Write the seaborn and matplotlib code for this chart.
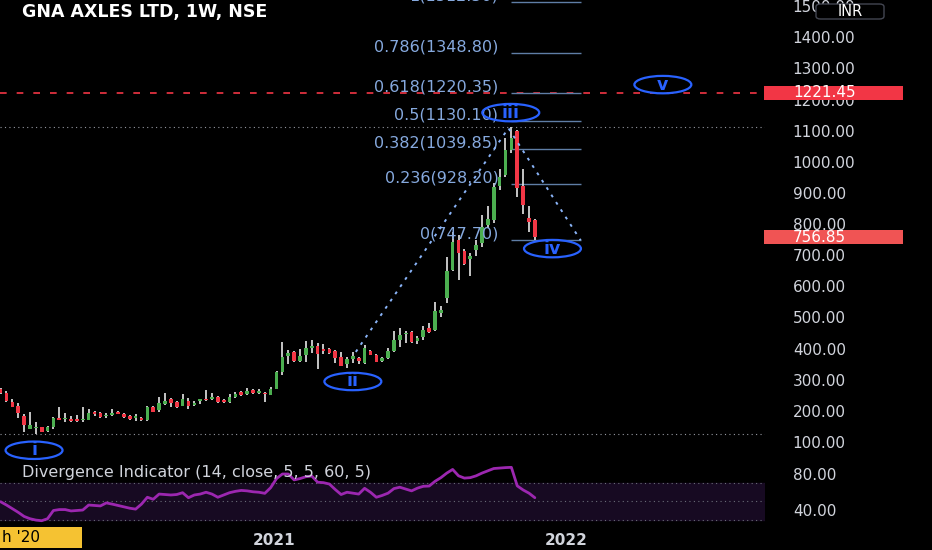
import matplotlib
matplotlib.use("Agg")
import matplotlib.pyplot as plt
import matplotlib.transforms as mtransforms
from matplotlib.patches import Ellipse, Rectangle, FancyBboxPatch
import numpy as np
import pandas as pd
import seaborn as sns

# weekly candles, bar 0 = first visible bar on the left
opens = [269, 258, 229, 216, 184, 141, 143, 147, 134, 147, 176, 173, 173, 173, 171, 170,
         195, 194, 183, 186, 196, 191, 183, 178, 178, 170, 213, 202, 222, 237, 229, 215,
         232, 218, 232, 236, 238, 245, 235, 229, 243, 261, 254, 266, 256, 258, 251, 270,
         324, 376, 388, 361, 379, 403, 409, 394, 397, 392, 372, 349, 365, 370, 353, 393,
         379, 361, 369, 392, 427, 447, 454, 425, 436, 467, 460, 513, 561, 652, 749, 714,
         687, 717, 740, 797, 813, 923, 958, 1038, 1099, 923, 820, 813]
highs = [274, 262, 238, 224, 190, 195, 165, 149, 152, 181, 213, 192, 183, 185, 212, 206,
         200, 197, 194, 206, 198, 194, 186, 190, 181, 215, 215, 243, 256, 240, 232, 254,
         242, 231, 238, 268, 256, 247, 237, 253, 261, 264, 272, 269, 270, 260, 276, 327,
         422, 395, 392, 398, 425, 427, 417, 414, 401, 395, 390, 372, 390, 372, 411, 396,
         382, 374, 403, 456, 465, 457, 457, 440, 472, 481, 548, 537, 693, 775, 765, 719,
         706, 749, 829, 858, 931, 976, 1075, 1111, 1102, 976, 858, 815]
lows = [254, 229, 211, 176, 133, 140, 125, 131, 133, 141, 170, 165, 163, 163, 165, 170,
        184, 176, 176, 183, 188, 177, 170, 168, 168, 168, 196, 197, 219, 213, 210, 214,
        206, 215, 222, 232, 235, 224, 226, 226, 241, 248, 252, 254, 253, 227, 250, 269,
        315, 350, 356, 358, 358, 385, 333, 382, 382, 352, 344, 337, 352, 349, 349, 378,
        356, 358, 366, 390, 406, 419, 417, 415, 427, 451, 457, 500, 545, 650, 620, 668,
        633, 697, 727, 786, 802, 909, 952, 1029, 886, 832, 775, 747.7]
closes = [256, 230, 211, 192, 154, 154, 147, 133, 147, 176, 171, 177, 168, 168, 172, 194,
          190, 179, 186, 194, 189, 180, 175, 178.5, 170, 211, 197, 224, 232, 224, 211, 238,
          215, 226, 237, 235, 245, 227, 227, 245, 254, 251, 264, 257, 264, 253, 269, 324,
          374, 385, 360, 376, 403, 409, 382, 393, 387, 371, 345, 366, 376, 361, 401, 380,
          358, 369, 393, 427, 443, 451, 422, 433, 459, 454, 521, 524, 650, 743, 708, 671,
          697, 733, 790, 815, 918, 950, 1038, 1075, 915, 861, 808, 756.85]

# divergence indicator (RSI-like) value per bar
rsi = [49.6, 46, 42, 38, 33.5, 31, 29.5, 28.8, 31, 40, 41, 41, 39.5, 40, 40.5, 46,
       45.5, 45, 48.3, 47, 45.5, 44, 42.5, 41.5, 47, 54.5, 52.3, 58, 57.5, 57, 57.5, 59.5,
       54, 57, 58, 60, 58, 54.5, 57, 59.5, 61, 62, 61.5, 60.5, 60, 58.8, 65, 75,
       80, 80, 73.5, 75, 77, 77.8, 71, 70.5, 69, 63, 57.5, 60, 59, 58, 64.3, 60,
       54.5, 56.5, 59, 64, 65.5, 63.5, 61.5, 64.5, 66.5, 66.8, 72, 76, 81, 85, 78, 75.5,
       76, 78, 81, 83.5, 86, 86.5, 87, 87.3, 67, 62.5, 59, 54]

# fibonacci retracement drawn on the chart
fib_ratios = ["0", "0.236", "0.382", "0.5", "0.618", "0.786", "1"]
fib_prices = [747.70, 928.20, 1039.85, 1130.10, 1220.35, 1348.80, 1512.50]
fib_start, fib_end = 86.9, 98.8

# elliott wave labels (bar position, price)
wave_labels = ["i", "ii", "iii", "iv", "v"]
wave_bar = [5.7, 60.0, 86.9, 94.0, 112.8]
wave_price = [73, 294, 1158, 721, 1248]

# dotted wave path
path_bar = [60.5, 86.5, 98.8]
path_price = [389, 1108, 747.7]

last_price = 756.85
alert_price = 1221.45
year_ticks = [46.5, 96.3]
year_labels = ["2021", "2022"]

df = pd.DataFrame({"open": opens, "high": highs, "low": lows, "close": closes, "rsi": rsi})
df["bar"] = np.arange(len(df))
df["up"] = df["close"] >= df["open"]

sns.set_theme(style="dark", rc={"axes.facecolor": "black", "figure.facecolor": "black"})
plt.rcParams["font.family"] = ["DejaVu Sans"]

W, H = 932, 550
fig = plt.figure(figsize=(W / 100, H / 100), dpi=100)
fig.patch.set_facecolor("black")

def fx(px):
    return px / W

def fy(py):
    return 1 - py / H

ax = fig.add_axes([0, fy(462), fx(765), 462 / H])
axr = fig.add_axes([0, fy(527), fx(765), (527 - 462) / H])
for a in (ax, axr):
    a.set_facecolor("black")
    a.grid(False)
    for s in a.spines.values():
        s.set_visible(False)
    a.set_xlim(-0.1, 130.2)

ax.set_ylim(35.3, 1519.9)
axr.set_ylim(21.9, 93.15)

green = "#4caf50"
red = "#f23645"
txt = "#d1d4dc"

# candles
ax.vlines(df["bar"], df["low"], df["high"], color="#e6e6e6", lw=1.2, zorder=2)
body_lo = df[["open", "close"]].min(axis=1)
body_h = (df["close"] - df["open"]).abs().clip(lower=4)
ax.bar(df["bar"], body_h, bottom=body_lo, width=0.62,
       color=np.where(df["up"], green, red), zorder=3, linewidth=0)

# high / low guide lines
ax.axhline(df["high"].max(), color="#9598a1", ls=(0, (1, 3)), lw=0.8, zorder=1)
ax.axhline(df["low"].min(), color="#9598a1", ls=(0, (1, 3)), lw=0.8, zorder=1)

# alert line
ax.axhline(alert_price, color=red, ls=(0, (4, 6)), lw=1.2, zorder=1)

# fib levels
ax.hlines(fib_prices, fib_start, fib_end, color="#5f7ea6", lw=1, zorder=1)
for r, p in zip(fib_ratios, fib_prices):
    ax.text(fib_start - 2.1, p + 6, f"{r}({p:.2f})", ha="right", va="baseline",
            color="#86a9de", fontsize=11.5, zorder=4)

# wave path
ax.plot(path_bar, path_price, color="#8ab4f8", ls=(0, (1.5, 3)), lw=1.4, zorder=4)

# wave labels
for lab, b, p in zip(wave_labels, wave_bar, wave_price):
    ax.add_patch(Ellipse((b, p), width=9.7, height=56, fill=False,
                         edgecolor="#2962ff", lw=1.6, zorder=5))
    ax.text(b, p, lab, ha="center", va="center", color="#2962ff",
            fontsize=12.5, fontweight="bold", zorder=6)

# right price axis
ax.yaxis.tick_right()
ax.set_yticks(range(100, 1600, 100))
ax.set_yticklabels([f"{v:.2f}" for v in range(100, 1600, 100)])
ax.tick_params(axis="y", length=0, pad=20, labelcolor=txt, labelsize=11)
ax.set_xticks([])

blend = mtransforms.blended_transform_factory(ax.transAxes, ax.transData)
for p, col in [(alert_price, red), (last_price, "#f05454")]:
    ax.add_patch(Rectangle((0.999, p - 22.5), 0.182, 45, transform=blend,
                           facecolor=col, edgecolor="none", clip_on=False, zorder=7))
    ax.text(793 / 765, p, f"{p:.2f}", transform=blend, ha="left", va="center",
            color="white", fontsize=11, clip_on=False, zorder=8)

# INR badge
fig.add_artist(FancyBboxPatch((fx(816), fy(19)), fx(68), 15 / H,
                              boxstyle="round,pad=0,rounding_size=0.005",
                              facecolor="black", edgecolor="#434651", lw=1, zorder=5))
fig.text(fx(850), fy(11), "INR", ha="center", va="center", color="white",
         fontsize=10.5, zorder=6)

# indicator pane
axr.axhspan(30, 70, color="#170a22", zorder=0)
for lvl in (70, 50, 30):
    axr.axhline(lvl, color="#6a6d78", ls=(0, (1, 3)), lw=0.8, zorder=1)
sns.lineplot(data=df, x="bar", y="rsi", ax=axr, color="#9c27b0", lw=2, zorder=3)
axr.set_xlabel("")
axr.set_ylabel("")
axr.yaxis.tick_right()
axr.set_yticks([40, 80])
axr.set_yticklabels(["40.00", "80.00"])
axr.tick_params(axis="y", length=0, pad=20, labelcolor=txt, labelsize=11)
axr.set_xticks(year_ticks)
axr.set_xticklabels(year_labels, fontweight="bold")
axr.tick_params(axis="x", length=0, pad=4, labelcolor=txt, labelsize=11)

# titles
fig.text(fx(22), fy(12), "GNA AXLES LTD, 1W, NSE", ha="left", va="center",
         color="white", fontsize=12.5, fontweight="bold")
fig.text(fx(22), fy(472), "Divergence Indicator (14, close, 5, 5, 60, 5)", ha="left",
         va="center", color=txt, fontsize=11.5, zorder=5)

# date badge bottom-left
fig.add_artist(Rectangle((0, fy(548)), fx(82), 21 / H, facecolor="#f5c232",
                         edgecolor="none", zorder=5))
fig.text(fx(2), fy(538), "h '20", ha="left", va="center", color="black",
         fontsize=11, zorder=6)

fig.savefig("out.png", dpi=100, facecolor="black")
